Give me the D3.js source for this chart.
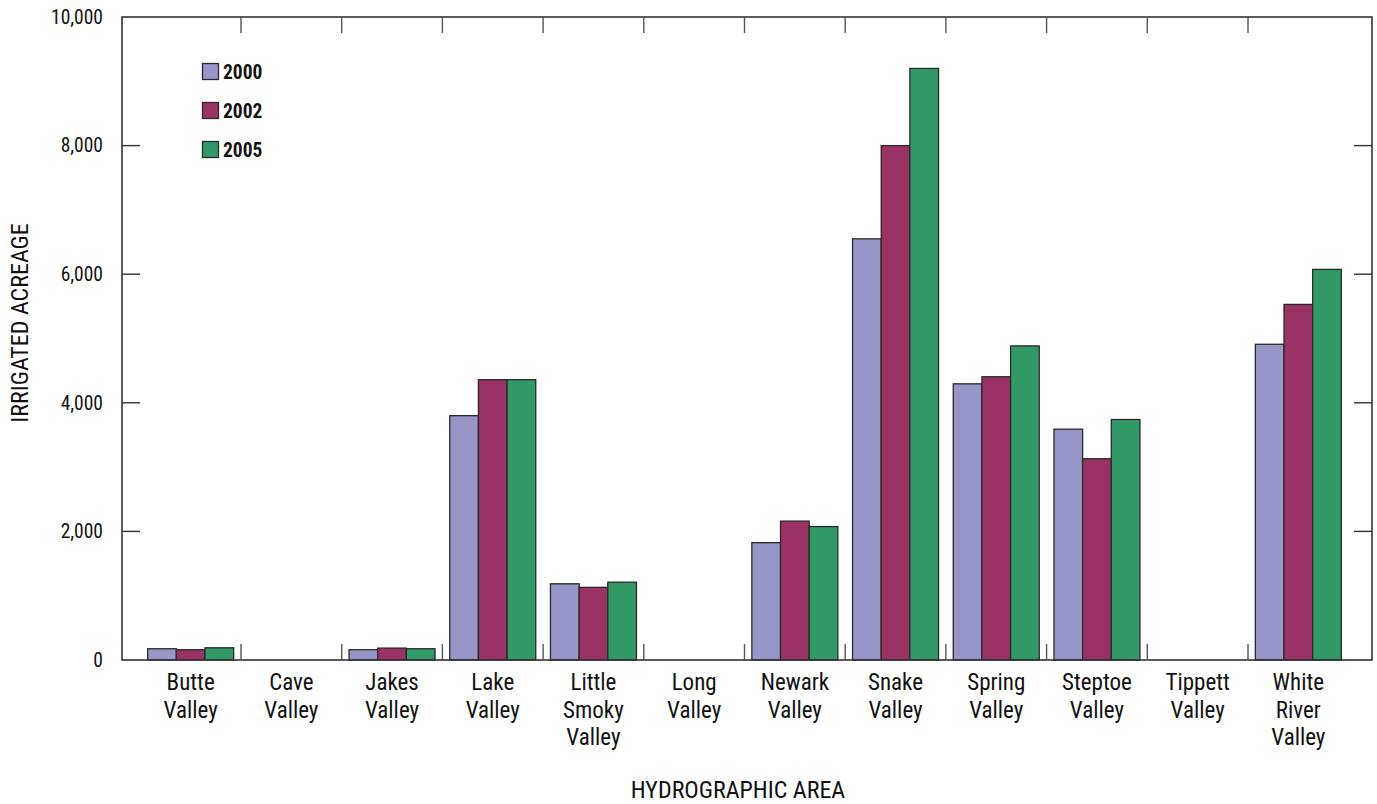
<!DOCTYPE html>
<html>
<head>
<meta charset="utf-8">
<script src="https://cdn.jsdelivr.net/npm/d3@7"></script>
<style>
  body { margin: 0; background: #fff; }
  svg text { font-family: "Liberation Sans Narrow", "Arial Narrow", "Roboto Condensed", sans-serif; fill: #111; }
</style>
</head>
<body>
<svg id="chart" width="1377" height="804"></svg>
<script>
// categories (label lines)
const areas = [
  ["Butte", "Valley"], ["Cave", "Valley"], ["Jakes", "Valley"], ["Lake", "Valley"],
  ["Little", "Smoky", "Valley"], ["Long", "Valley"], ["Newark", "Valley"], ["Snake", "Valley"],
  ["Spring", "Valley"], ["Steptoe", "Valley"], ["Tippett", "Valley"], ["White", "River", "Valley"]
];
const years = ["2000", "2002", "2005"];
const acres2000 = [175, 0, 160, 3800, 1185, 0, 1825, 6550, 4295, 3590, 0, 4910];
const acres2002 = [160, 0, 185, 4360, 1130, 0, 2160, 8000, 4405, 3130, 0, 5530];
const acres2005 = [190, 0, 175, 4360, 1210, 0, 2075, 9200, 4885, 3740, 0, 6075];
const yTicks = [0, 2000, 4000, 6000, 8000, 10000];
const colors = ["#9696c8", "#993366", "#319966"];

const series = [acres2000, acres2002, acres2005];
const names = areas.map(a => a.join(" "));

const svg = d3.select("#chart");
const plotLeft = 122, plotRight = 1372, plotTop = 17, plotBottom = 660;

let x = d3.scaleBand()
  .domain(names)
  .range([140.3, 1348.7])
  .paddingInner(0.146)
  .paddingOuter(0.073);

let x1 = d3.scaleBand()
  .domain(years)
  .range([0, x.bandwidth()]);

let y = d3.scaleLinear()
  .domain([0, 10000])
  .range([plotBottom, plotTop]);

// bars
names.forEach(function(name, i) {
  let g = svg.append("g").attr("transform", "translate(" + x(name) + ",0)");
  years.forEach(function(yr, j) {
    let v = series[j][i];
    if (v <= 0) return;
    g.append("rect")
      .attr("x", x1(yr))
      .attr("y", y(v))
      .attr("width", x1.bandwidth())
      .attr("height", y(0) - y(v))
      .attr("fill", colors[j])
      .attr("stroke", "#2a2a2a")
      .attr("stroke-width", 1.3);
  });
});

// frame
svg.append("rect")
  .attr("x", plotLeft).attr("y", plotTop)
  .attr("width", plotRight - plotLeft).attr("height", plotBottom - plotTop)
  .attr("fill", "none")
  .attr("stroke", "#333")
  .attr("stroke-width", 1.6);

// y ticks (inward, both sides)
yTicks.slice(1, -1).forEach(function(t) {
  svg.append("line").attr("x1", plotLeft).attr("x2", plotLeft + 18)
    .attr("y1", y(t)).attr("y2", y(t)).attr("stroke", "#333").attr("stroke-width", 1.4);
  svg.append("line").attr("x1", plotRight - 18).attr("x2", plotRight)
    .attr("y1", y(t)).attr("y2", y(t)).attr("stroke", "#333").attr("stroke-width", 1.4);
});
yTicks.forEach(function(t) {
  svg.append("text")
    .attr("x", 103).attr("y", y(t))
    .attr("dy", "0.35em")
    .attr("text-anchor", "end")
    .attr("font-size", 19.5)
    .text(d3.format(",")(t));
});

// category separators top and bottom
const step = x.step();
for (let k = 1; k < names.length; k++) {
  let xs = x(names[k]) - step * x.paddingInner() / 2;
  svg.append("line").attr("x1", xs).attr("x2", xs)
    .attr("y1", plotTop).attr("y2", plotTop + 16).attr("stroke", "#555").attr("stroke-width", 1.4);
  svg.append("line").attr("x1", xs).attr("x2", xs)
    .attr("y1", plotBottom - 16).attr("y2", plotBottom).attr("stroke", "#555").attr("stroke-width", 1.4);
}

// category labels
areas.forEach(function(lines, i) {
  let t = svg.append("text")
    .attr("text-anchor", "middle")
    .attr("font-size", 23);
  lines.forEach(function(l, k) {
    t.append("tspan")
      .attr("x", x(names[i]) + x.bandwidth() / 2)
      .attr("y", 690 + k * 27.5)
      .text(l);
  });
});

// axis titles
svg.append("text")
  .attr("x", 738).attr("y", 798)
  .attr("text-anchor", "middle")
  .attr("font-size", 24)
  .text("HYDROGRAPHIC AREA");

svg.append("text")
  .attr("transform", "translate(28,323) rotate(-90)")
  .attr("text-anchor", "middle")
  .attr("font-size", 24)
  .text("IRRIGATED ACREAGE");

// legend
years.forEach(function(yr, j) {
  svg.append("rect")
    .attr("x", 202.5).attr("y", 63.5 + j * 39)
    .attr("width", 16).attr("height", 16)
    .attr("fill", colors[j])
    .attr("stroke", "#2a2a2a")
    .attr("stroke-width", 1.3);
  svg.append("text")
    .attr("x", 223).attr("y", 72 + j * 39)
    .attr("dy", "0.35em")
    .attr("font-size", 19.5)
    .attr("font-weight", "bold")
    .text(yr);
});
</script>
</body>
</html>
